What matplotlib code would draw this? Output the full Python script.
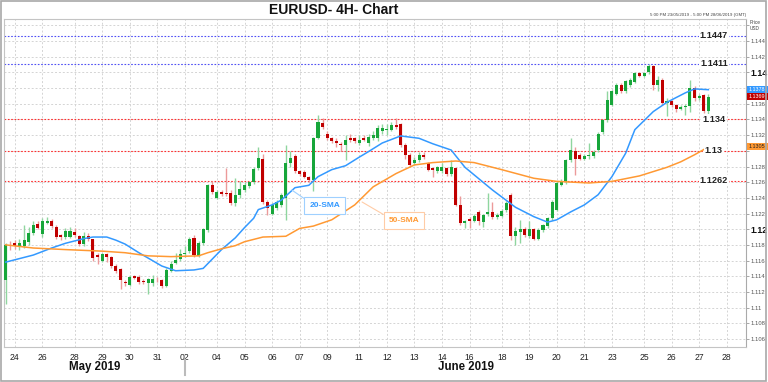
import matplotlib
matplotlib.use('Agg')
import matplotlib.pyplot as plt
import matplotlib.transforms as mtransforms
from matplotlib.patches import Rectangle
import numpy as np

plt.rcParams['font.family'] = ['Liberation Sans', 'DejaVu Sans']

# 4H candles, 23/05/2019 17:00 -> 27/06/2019
opens = [1.1135, 1.1180, 1.1182, 1.1178, 1.1179, 1.1184, 1.1195, 1.1206, 1.1194, 1.1208,
         1.1210, 1.1203, 1.1192, 1.1190, 1.1190, 1.1197, 1.1191, 1.1181, 1.1191, 1.1187,
         1.1167, 1.1160, 1.1168, 1.1164, 1.1153, 1.1149, 1.1133, 1.1129, 1.1140, 1.1139,
         1.1134, 1.1131, 1.1131, 1.1137, 1.1135, 1.1128, 1.1147, 1.1157, 1.1162, 1.1168,
         1.1172, 1.1189, 1.1166, 1.1182, 1.1199, 1.1257, 1.1240, 1.1247, 1.1246, 1.1246,
         1.1234, 1.1244, 1.1250, 1.1255, 1.1260, 1.1278, 1.1290, 1.1235, 1.1220, 1.1227,
         1.1231, 1.1240, 1.1284, 1.1293, 1.1274, 1.1273, 1.1266, 1.1263, 1.1317, 1.1335,
         1.1321, 1.1316, 1.1313, 1.1309, 1.1308, 1.1316, 1.1316, 1.1310, 1.1316, 1.1310,
         1.1316, 1.1316, 1.1325, 1.1326, 1.1327, 1.1333, 1.1334, 1.1308, 1.1295, 1.1284,
         1.1288, 1.1295, 1.1284, 1.1278, 1.1274, 1.1274, 1.1278, 1.1270, 1.1278, 1.1231,
         1.1208, 1.1213, 1.1211, 1.1222, 1.1209, 1.1219, 1.1222, 1.1215, 1.1217, 1.1224,
         1.1244, 1.1191, 1.1197, 1.1200, 1.1191, 1.1200, 1.1188, 1.1199, 1.1204, 1.1214,
         1.1225, 1.1257, 1.1260, 1.1288, 1.1300, 1.1295, 1.1290, 1.1293, 1.1293, 1.1301,
         1.1324, 1.1339, 1.1359, 1.1373, 1.1384, 1.1376, 1.1384, 1.1388, 1.1399, 1.1396,
         1.1400, 1.1408, 1.1384, 1.1391, 1.1361, 1.1363, 1.1359, 1.1354, 1.1356, 1.1357,
         1.1380, 1.1367, 1.1371, 1.1351]
highs = [1.1182, 1.1185, 1.1186, 1.1188, 1.1205, 1.1203, 1.1210, 1.1210, 1.1214, 1.1216,
         1.1213, 1.1205, 1.1194, 1.1201, 1.1203, 1.1201, 1.1193, 1.1197, 1.1195, 1.1188,
         1.1169, 1.1170, 1.1170, 1.1166, 1.1155, 1.1150, 1.1135, 1.1141, 1.1142, 1.1141,
         1.1136, 1.1138, 1.1142, 1.1139, 1.1137, 1.1150, 1.1160, 1.1170, 1.1175, 1.1178,
         1.1190, 1.1192, 1.1185, 1.1202, 1.1258, 1.1262, 1.1250, 1.1250, 1.1278, 1.1250,
         1.1265, 1.1262, 1.1260, 1.1262, 1.1279, 1.1305, 1.1296, 1.1237, 1.1233, 1.1237,
         1.1246, 1.1307, 1.1300, 1.1296, 1.1276, 1.1275, 1.1268, 1.1318, 1.1346, 1.1342,
         1.1325, 1.1318, 1.1316, 1.1311, 1.1320, 1.1322, 1.1318, 1.1320, 1.1320, 1.1322,
         1.1325, 1.1333, 1.1334, 1.1334, 1.1337, 1.1342, 1.1336, 1.1310, 1.1297, 1.1292,
         1.1298, 1.1298, 1.1286, 1.1280, 1.1281, 1.1284, 1.1280, 1.1288, 1.1280, 1.1242,
         1.1212, 1.1215, 1.1220, 1.1225, 1.1220, 1.1246, 1.1235, 1.1221, 1.1226, 1.1236,
         1.1246, 1.1203, 1.1212, 1.1203, 1.1210, 1.1202, 1.1202, 1.1207, 1.1216, 1.1237,
         1.1261, 1.1264, 1.1290, 1.1317, 1.1305, 1.1297, 1.1296, 1.1310, 1.1301, 1.1324,
         1.1341, 1.1376, 1.1378, 1.1386, 1.1386, 1.1391, 1.1393, 1.1401, 1.1401, 1.1401,
         1.1411, 1.1410, 1.1395, 1.1393, 1.1367, 1.1365, 1.1360, 1.1358, 1.1360, 1.1390,
         1.1383, 1.1373, 1.1373, 1.1372]
lows = [1.1104, 1.1174, 1.1175, 1.1173, 1.1176, 1.1180, 1.1193, 1.1200, 1.1190, 1.1206,
        1.1202, 1.1188, 1.1186, 1.1188, 1.1189, 1.1190, 1.1178, 1.1179, 1.1185, 1.1160,
        1.1156, 1.1158, 1.1158, 1.1150, 1.1144, 1.1124, 1.1128, 1.1127, 1.1136, 1.1130,
        1.1130, 1.1117, 1.1128, 1.1133, 1.1125, 1.1126, 1.1146, 1.1155, 1.1160, 1.1165,
        1.1170, 1.1165, 1.1164, 1.1180, 1.1197, 1.1245, 1.1238, 1.1243, 1.1243, 1.1231,
        1.1229, 1.1240, 1.1248, 1.1252, 1.1258, 1.1276, 1.1232, 1.1218, 1.1218, 1.1225,
        1.1228, 1.1212, 1.1280, 1.1272, 1.1268, 1.1265, 1.1260, 1.1249, 1.1315, 1.1328,
        1.1314, 1.1310, 1.1305, 1.1300, 1.1288, 1.1311, 1.1310, 1.1308, 1.1312, 1.1306,
        1.1314, 1.1312, 1.1322, 1.1320, 1.1325, 1.1328, 1.1305, 1.1290, 1.1280, 1.1282,
        1.1286, 1.1290, 1.1274, 1.1267, 1.1272, 1.1272, 1.1268, 1.1268, 1.1229, 1.1205,
        1.1201, 1.1202, 1.1209, 1.1205, 1.1203, 1.1217, 1.1213, 1.1213, 1.1215, 1.1222,
        1.1186, 1.1180, 1.1182, 1.1190, 1.1189, 1.1186, 1.1186, 1.1197, 1.1202, 1.1212,
        1.1223, 1.1255, 1.1258, 1.1286, 1.1269, 1.1288, 1.1288, 1.1290, 1.1291, 1.1299,
        1.1322, 1.1337, 1.1357, 1.1371, 1.1374, 1.1374, 1.1382, 1.1386, 1.1394, 1.1394,
        1.1398, 1.1378, 1.1376, 1.1358, 1.1344, 1.1356, 1.1350, 1.1352, 1.1346, 1.1350,
        1.1364, 1.1365, 1.1348, 1.1344]
closes = [1.1180, 1.1179, 1.1178, 1.1182, 1.1186, 1.1195, 1.1205, 1.1202, 1.1210, 1.1211,
          1.1204, 1.1190, 1.1190, 1.1198, 1.1198, 1.1192, 1.1181, 1.1191, 1.1187, 1.1163,
          1.1164, 1.1168, 1.1164, 1.1153, 1.1147, 1.1135, 1.1131, 1.1139, 1.1138, 1.1133,
          1.1132, 1.1136, 1.1137, 1.1136, 1.1127, 1.1148, 1.1155, 1.1161, 1.1168, 1.1170,
          1.1188, 1.1167, 1.1182, 1.1200, 1.1256, 1.1247, 1.1248, 1.1245, 1.1245, 1.1233,
          1.1244, 1.1251, 1.1256, 1.1260, 1.1277, 1.1291, 1.1235, 1.1227, 1.1231, 1.1235,
          1.1244, 1.1284, 1.1291, 1.1274, 1.1271, 1.1267, 1.1263, 1.1316, 1.1337, 1.1331,
          1.1316, 1.1313, 1.1310, 1.1307, 1.1314, 1.1314, 1.1312, 1.1314, 1.1314, 1.1318,
          1.1320, 1.1329, 1.1329, 1.1328, 1.1333, 1.1331, 1.1308, 1.1295, 1.1282, 1.1288,
          1.1295, 1.1292, 1.1276, 1.1276, 1.1279, 1.1279, 1.1271, 1.1280, 1.1231, 1.1208,
          1.1210, 1.1211, 1.1217, 1.1210, 1.1218, 1.1222, 1.1215, 1.1218, 1.1223, 1.1233,
          1.1191, 1.1198, 1.1200, 1.1193, 1.1200, 1.1188, 1.1199, 1.1205, 1.1214, 1.1235,
          1.1259, 1.1261, 1.1288, 1.1301, 1.1290, 1.1290, 1.1293, 1.1295, 1.1299, 1.1322,
          1.1339, 1.1365, 1.1376, 1.1384, 1.1376, 1.1389, 1.1391, 1.1399, 1.1396, 1.1399,
          1.1408, 1.1384, 1.1391, 1.1361, 1.1364, 1.1359, 1.1354, 1.1356, 1.1357, 1.1380,
          1.1367, 1.1370, 1.1351, 1.1369]

# moving averages (candle index, price)
sma20_idx = [0, 2, 6, 10, 13, 17, 19, 22, 24, 26, 29, 34, 37, 41, 43, 47, 50, 52, 54, 55,
             58, 60, 63, 66, 68, 71, 74, 77, 79, 82, 86, 90, 93, 97, 100, 106, 111, 115, 118,
             120, 123, 126, 129, 132, 135, 137, 141, 144, 148, 150, 153]
sma20 = [1.1158, 1.1161, 1.1167, 1.1176, 1.1182, 1.1188, 1.1190, 1.1190, 1.1186, 1.1181,
         1.1170, 1.1153, 1.1147, 1.1148, 1.1150, 1.1174, 1.1189, 1.1202, 1.1214, 1.1225,
         1.1231, 1.1237, 1.1253, 1.1256, 1.1267, 1.1276, 1.1281, 1.1292, 1.1299, 1.1310,
         1.1319, 1.1316, 1.1309, 1.1301, 1.1279, 1.1250, 1.1228, 1.1216, 1.1209, 1.1212,
         1.1222, 1.1231, 1.1244, 1.1267, 1.1297, 1.1327, 1.1350, 1.1362, 1.1374, 1.1379,
         1.1378]
sma50_idx = [0, 6, 13, 21, 26, 31, 36, 42, 44, 47, 50, 52, 56, 61, 64, 67, 71, 76, 80, 85,
             89, 93, 98, 102, 108, 115, 120, 127, 132, 138, 144, 147, 150, 153]
sma50 = [1.1180, 1.1176, 1.1174, 1.1172, 1.1170, 1.1166, 1.1165, 1.1166, 1.1170, 1.1175,
         1.1179, 1.1184, 1.1190, 1.1191, 1.1201, 1.1204, 1.1212, 1.1231, 1.1254, 1.1271,
         1.1282, 1.1285, 1.1287, 1.1285, 1.1276, 1.1265, 1.1261, 1.1259, 1.1261, 1.1268,
         1.1279, 1.1286, 1.1295, 1.1305]

resistance = [1.1447, 1.1411]
support = [1.134, 1.13, 1.1262]

day_pos = [2, 8, 15, 21, 27, 33, 39, 46, 52, 58, 64, 70, 77, 83, 89, 95, 101, 108, 114, 120,
           126, 132, 139, 145, 151, 157]
day_labels = ['24', '26', '28', '29', '30', '31', '02', '04', '05', '06', '07', '09', '11',
              '12', '13', '14', '16', '18', '19', '20', '21', '23', '25', '26', '27', '28']
months = ['May 2019', 'June 2019']

GREEN = '#17a63a'
RED = '#c00000'
BLUE = '#3399ff'
ORANGE = '#ff9933'

fig = plt.figure(figsize=(7.68, 3.82), dpi=100)
ax = fig.add_axes([4 / 768, 35 / 382, 742 / 768, 328 / 382])

o = np.array(opens)
h = np.array(highs)
l = np.array(lows)
c = np.array(closes)
x = np.arange(len(c))
up = c >= o

ax.vlines(x[up], l[up], h[up], color='#8fd69f', lw=1, zorder=3)
ax.vlines(x[~up], l[~up], h[~up], color='#ec9a9a', lw=1, zorder=3)
body = np.maximum(np.abs(c - o), 0.00006)
ax.bar(x[up], body[up], bottom=np.minimum(o, c)[up], width=0.66, color=GREEN, zorder=3.5)
ax.bar(x[~up], body[~up], bottom=np.minimum(o, c)[~up], width=0.66, color=RED, zorder=3.5)

ax.plot(sma20_idx, sma20, color=BLUE, lw=1.1, zorder=4)
ax.plot(sma50_idx, sma50, color=ORANGE, lw=1.1, zorder=4)

# levels
for lv in resistance:
    ax.axhline(lv, color='#4f4ff5', lw=0.8, ls=(0, (1.5, 1.5)), zorder=2)
for lv in support:
    ax.axhline(lv, color='#ff3030', lw=0.8, ls=(0, (1.5, 1.5)), zorder=2)
for lv in resistance + support:
    ax.text(154.2, lv, f'{lv:g}', ha='center', va='center', fontsize=6.6,
            fontweight='bold', color='#222', zorder=5,
            bbox=dict(fc='white', ec='none', pad=0.6))

ax.set_xlim(-0.37, 161.2)
ax.set_ylim(1.10497, 1.14682)

# grid
yt = np.round(np.arange(1.106, 1.1461, 0.002), 3)
ax.set_yticks(yt)
ax.set_xticks(day_pos)
ax.grid(True, color='#d4d4d4', lw=0.7, ls=(0, (2, 2)), zorder=0)
ax.set_axisbelow(True)

# price tags on the right (7 px tall boxes, stacked like the reference)
tags = [(sma20[-1], BLUE, 'white'), (closes[-1], RED, 'white'), (sma50[-1], ORANGE, '#222')]

ax.yaxis.tick_right()
ylabels = []
for v in yt:
    s = f'{v:.3f}'.rstrip('0')
    # top line carries "Price USD"; labels under the tags are hidden
    hidden = v > 1.1455 or any(abs(v - t[0]) < 0.0008 for t in tags)
    ylabels.append('' if hidden else s)
ax.set_yticklabels(ylabels)
ax.tick_params(axis='y', length=2, width=0.6, color='#999', pad=1, labelsize=4.2,
               labelcolor='#555')
for lab, v in zip(ax.get_yticklabels(), yt):
    if abs(v - 1.14) < 1e-6 or abs(v - 1.12) < 1e-6:
        lab.set_fontsize(6.3)
        lab.set_fontweight('bold')
        lab.set_color('#111')
ax.set_xticklabels(day_labels)
ax.tick_params(axis='x', length=0, pad=4, labelsize=6.2, labelcolor='#222')

for sp in ax.spines.values():
    sp.set_color('#c4c4c4')
    sp.set_linewidth(0.8)
ax.spines['right'].set_color('#aaaaaa')

# month labels and separator
trans = mtransforms.blended_transform_factory(ax.transData, ax.transAxes)
ax.text(19.4, -0.061, months[0], transform=trans, ha='center', va='center',
        fontsize=8.3, fontweight='bold', color='#111')
ax.text(100.2, -0.061, months[1], transform=trans, ha='center', va='center',
        fontsize=8.3, fontweight='bold', color='#111')
ax.plot([39, 39], [-0.04, -0.085], transform=trans, color='#bbbbbb', lw=1.5,
        clip_on=False)

ytrans = mtransforms.blended_transform_factory(ax.transAxes, ax.transData)
tag_h = 7 / 7837
for val, fc, tc in tags:
    ax.add_patch(Rectangle((1.001, val - tag_h / 2), 0.031, tag_h, transform=ytrans,
                           fc=fc, ec='none', zorder=6, clip_on=False))
    ax.text(1.0035, val, f'{val:.4f}', transform=ytrans, ha='left', va='center',
            fontsize=3.9, color=tc, zorder=7, clip_on=False)

# SMA call-outs
ax.annotate('20-SMA', xy=(62.3, 1.1250), xytext=(69.5, 1.1230), ha='center', va='center',
            fontsize=6, fontweight='bold', color=BLUE, zorder=6,
            bbox=dict(boxstyle='square,pad=0.6', fc='white', ec='#9fd0ff', lw=0.8),
            arrowprops=dict(arrowstyle='-', color='#9fd0ff', lw=0.8, relpos=(0, 1),
                            shrinkA=0, shrinkB=0))
ax.annotate('50-SMA', xy=(77.6, 1.12347), xytext=(86.7, 1.12105), ha='center', va='center',
            fontsize=6, fontweight='bold', color=ORANGE, zorder=6,
            bbox=dict(boxstyle='square,pad=0.6', fc='white', ec='#ffcca6', lw=0.8),
            arrowprops=dict(arrowstyle='-', color='#ffcca6', lw=0.8, relpos=(0, 1),
                            shrinkA=0, shrinkB=0))

# header texts
fig.text(334 / 768, 1 - 10 / 382, 'EURUSD- 4H- Chart', ha='center', va='center',
         fontsize=10, fontweight='bold', color='#111')
fig.text(746 / 768, 1 - 15 / 382, '5:00 PM 23/05/2019 - 5:00 PM 28/06/2019 (GMT)',
         ha='right', va='center', fontsize=3.2, color='#444')
fig.text(750 / 768, 1 - 22 / 382, 'Price', ha='left', va='center', fontsize=3.4, color='#444')
fig.text(750 / 768, 1 - 29 / 382, 'USD', ha='left', va='center', fontsize=3.4, color='#444')

fig.patches.append(Rectangle((0.001, 0.002), 0.996, 0.995, transform=fig.transFigure,
                             fill=False, ec='#a8a8a8', lw=1.2))

fig.savefig('out.png', dpi=100)
